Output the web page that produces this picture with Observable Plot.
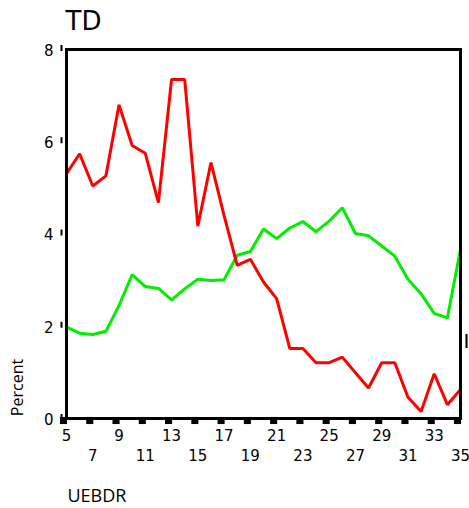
<!DOCTYPE html>
<html>
<head>
<meta charset="utf-8">
<script src="https://cdn.jsdelivr.net/npm/d3@7"></script>
<script src="https://cdn.jsdelivr.net/npm/@observablehq/plot@0.6"></script>
<style>
  html, body { margin: 0; padding: 0; background: #fff; }
</style>
</head>
<body>
<div id="chart"></div>
<script>
const xs = [5,6,7,8,9,10,11,12,13,14,15,16,17,18,19,20,21,22,23,24,25,26,27,28,29,30,31,32,33,34,35];
const redValues = [5.31,5.74,5.04,5.26,6.80,5.92,5.75,4.68,7.35,7.35,4.17,5.55,4.40,3.32,3.45,2.96,2.60,1.52,1.52,1.21,1.21,1.33,0.99,0.66,1.21,1.21,0.46,0.15,0.97,0.30,0.63];
const greenValues = [1.98,1.85,1.82,1.89,2.45,3.12,2.86,2.82,2.57,2.81,3.02,2.99,3.01,3.54,3.62,4.11,3.90,4.13,4.27,4.05,4.28,4.57,4.01,3.96,3.74,3.52,3.02,2.70,2.28,2.18,3.67];
const xTicks = [5,7,9,11,13,15,17,19,21,23,25,27,29,31,33,35];
const xLabelsUpper = [5,9,13,17,21,25,29,33];
const xLabelsLower = [7,11,15,19,23,27,31,35];
const yTicks = [0,2,4,6,8];
const title = "TD";
const xTitle = "UEBDR";
const yTitle = "Percent";
const edgeMark = "I";

const red = xs.map((x, i) => ({x, y: redValues[i]}));
const green = xs.map((x, i) => ({x, y: greenValues[i]}));

const tickFont = "DejaVu Sans";
const labelFont = "Open Sans";

const vbar = {
  draw(context) {
    context.moveTo(0, -3);
    context.lineTo(0, 3);
  }
};

const chart = Plot.plot({
  width: 469,
  height: 508,
  marginLeft: 66,
  marginRight: 9,
  marginTop: 49,
  marginBottom: 90,
  style: {background: "#fff"},
  x: {domain: [5, 35], axis: null},
  y: {domain: [0, 8], axis: null},
  marks: [
    Plot.line(green, {x: "x", y: "y", stroke: "#00ee00", strokeWidth: 3, strokeLinejoin: "miter"}),
    Plot.line(red, {x: "x", y: "y", stroke: "#ff0000", strokeWidth: 3, strokeLinejoin: "miter"}),
    Plot.frame({stroke: "black", strokeWidth: 3}),
    Plot.dot(xTicks, {x: d => d, y: 0, symbol: "square", r: 4, fill: "black", stroke: null, dx: -3, dy: 2}),
    Plot.text(xLabelsUpper, {x: d => d, y: 0, text: d => String(d), dy: 18, dx: 0, lineAnchor: "middle", fontSize: 15, fontFamily: tickFont, fill: "black", ariaLabel: "xlab"}),
    Plot.text(xLabelsLower, {x: d => d, y: 0, text: d => String(d), dy: 38, dx: 0, lineAnchor: "middle", fontSize: 15, fontFamily: tickFont, fill: "black", ariaLabel: "xlab"}),
    Plot.text(yTicks, {x: 5, y: d => d, text: d => String(d), textAnchor: "end", dx: -13, dy: 1.5, lineAnchor: "middle", fontSize: 15, fontFamily: tickFont, fill: "black"}),
    Plot.dot(yTicks, {x: 5, y: d => d, symbol: vbar, stroke: "black", strokeWidth: 2, fill: null, dx: -5, dy: -1.5}),
    Plot.text([title], {frameAnchor: "top-left", text: d => d, textAnchor: "start", lineAnchor: "middle", dx: -1, dy: -28, fontSize: 26, fontFamily: tickFont, fill: "black"}),
    Plot.text([yTitle], {frameAnchor: "bottom-left", text: d => d, rotate: -90, textAnchor: "middle", lineAnchor: "middle", dx: -49, dy: -31, fontSize: 16, fontFamily: labelFont, fill: "black"}),
    Plot.text([xTitle], {frameAnchor: "bottom-left", text: d => d, textAnchor: "start", lineAnchor: "middle", dx: 1, dy: 78, fontSize: 18, fontFamily: labelFont, fill: "black"}),
    Plot.text([edgeMark], {frameAnchor: "top-right", text: d => d, textAnchor: "end", lineAnchor: "middle", dx: 9, dy: 292, fontSize: 20, fontFamily: tickFont, fill: "black"})
  ]
});

d3.select(chart).selectAll('g[aria-label="xlab"] text').attr("letter-spacing", "2");
document.getElementById("chart").appendChild(chart);
</script>
</body>
</html>
